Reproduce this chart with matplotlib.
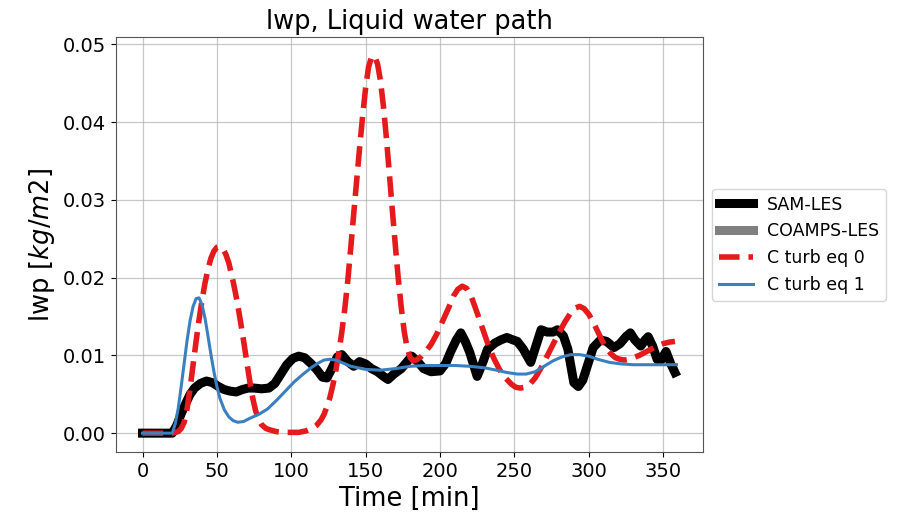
import matplotlib
matplotlib.use("Agg")
import matplotlib.pyplot as plt

# SAM-LES
sam_t = [0, 10, 20, 23, 26, 29, 32, 35, 39, 43, 47, 51, 55, 59, 63, 67, 71, 75, 80, 85,
         89, 93, 97, 101, 105, 109, 113, 117, 121, 124, 127, 131, 134, 138, 142, 146, 150,
         154, 158, 162, 165, 169, 174, 178, 181, 185, 189, 194, 200, 204, 207, 211, 214,
         217, 220, 225, 229, 232, 237, 241, 245, 249, 252, 256, 261, 265, 268, 272, 276,
         279, 283, 286, 290, 293, 296, 299, 303, 308, 312, 317, 321, 325, 328, 331, 335,
         338, 340, 343, 346, 348, 352, 355, 358]
sam_v = [0, 0, 0, 0.001, 0.0025, 0.0038, 0.005, 0.0058, 0.0064, 0.0067, 0.0065, 0.006,
         0.0056, 0.0054, 0.0053, 0.0056, 0.0058, 0.0058, 0.0057, 0.0058,
         0.0064, 0.0076, 0.0088, 0.0096, 0.0099, 0.0097, 0.009, 0.0082, 0.0072, 0.0071,
         0.0082, 0.0098, 0.0101, 0.0092, 0.0086, 0.0092, 0.0089,
         0.0083, 0.0079, 0.0073, 0.0069, 0.0076, 0.0083, 0.0092, 0.0099, 0.0092, 0.0083,
         0.0079, 0.0080, 0.0090, 0.0104, 0.0120, 0.0129,
         0.0118, 0.0104, 0.0073, 0.0092, 0.0108, 0.0116, 0.0120, 0.0123, 0.0120, 0.0118,
         0.0108, 0.0091, 0.0115, 0.0133, 0.0130, 0.0130,
         0.0133, 0.0125, 0.0108, 0.0065, 0.0060, 0.0068, 0.0086, 0.0110, 0.0120, 0.0118,
         0.0110, 0.0115, 0.0124, 0.0129, 0.0120, 0.0112,
         0.0120, 0.0124, 0.0112, 0.0095, 0.0092, 0.0105, 0.0090, 0.0078]

# COAMPS-LES (no data visible)
coamps_t = []
coamps_v = []

# C turb eq 0
c0_t = [0, 10, 20, 22, 24, 26, 28, 30, 32, 34, 36, 38, 40, 42, 44, 46, 48, 50, 52, 54,
        56, 58, 60, 62, 64, 66, 68, 70, 72, 74, 76, 78, 80, 83, 86, 90,
        95, 100, 105, 110, 114, 117, 120, 122, 124, 126, 128, 130, 132, 134, 136, 138,
        140, 142, 144, 146, 148, 150, 152, 154, 156, 158, 160, 162, 164, 166, 168, 170,
        172, 174, 176, 178, 180, 182, 184, 187, 190, 194, 198, 202, 206, 209, 212, 215,
        218, 221, 224, 228, 232, 236, 240, 244, 248, 251, 254, 257, 260, 264, 268, 272,
        276, 280, 284, 288, 291, 294, 297, 300, 303, 306, 309, 312, 315, 318, 321, 324,
        327, 330, 334, 338, 342, 346, 350, 354, 358]
c0_v = [0, 0, 0, 0.0001, 0.0002, 0.0006, 0.0014, 0.0032, 0.0058, 0.0088, 0.0118,
        0.0146, 0.0171, 0.0193, 0.0211, 0.0225, 0.0234, 0.0239, 0.024, 0.0237,
        0.023, 0.0219, 0.0203, 0.0185, 0.0165, 0.0142, 0.0118, 0.0093, 0.0068, 0.0046,
        0.0029, 0.0018, 0.0011, 0.0006, 0.0004, 0.0002,
        0.0001, 0.0001, 0.0001, 0.0003, 0.0006, 0.001, 0.0017, 0.0024, 0.0034, 0.0046,
        0.0062, 0.0081, 0.0104, 0.013, 0.016, 0.0196,
        0.0238, 0.0282, 0.0325, 0.0368, 0.0408, 0.0444, 0.0471, 0.0484, 0.0485, 0.0475,
        0.0453, 0.042, 0.0379, 0.0333, 0.0286, 0.0241,
        0.0198, 0.0161, 0.013, 0.0109, 0.0097, 0.0093, 0.0094, 0.0098, 0.0104, 0.0114,
        0.0128, 0.0145, 0.0162, 0.0176, 0.0185, 0.0189,
        0.0186, 0.0176, 0.016, 0.0138, 0.0116, 0.0097, 0.0082, 0.0071, 0.0063, 0.0059,
        0.0058, 0.0059, 0.0062, 0.0071, 0.0084, 0.0099,
        0.0114, 0.0129, 0.0143, 0.0155, 0.0161, 0.0163, 0.016, 0.0153, 0.0143, 0.0131,
        0.0119, 0.0109, 0.0102, 0.0097, 0.0095, 0.0094,
        0.0095, 0.0097, 0.0100, 0.0104, 0.0108, 0.0112, 0.0115, 0.0117, 0.0118]

# C turb eq 1
c1_t = [0, 10, 20, 22, 24, 26, 28, 30, 32, 34, 36, 38, 40, 42, 44, 46, 48, 50, 52, 55,
        58, 61, 64, 68, 72, 78, 84, 90, 96, 102, 108, 114, 118, 122, 126, 130, 135, 140,
        150, 160, 170, 180, 190, 200, 210, 220, 230, 238, 245, 252, 258, 264, 270, 276,
        282, 288, 294, 300, 306, 314, 322, 330, 340, 350, 359]
c1_v = [0, 0, 0, 0.0012, 0.0032, 0.006, 0.009, 0.012, 0.0145, 0.0163, 0.0173, 0.0174,
        0.0165, 0.0148, 0.0125, 0.0101, 0.0079, 0.006, 0.0045, 0.003,
        0.0021, 0.0016, 0.0014, 0.0015, 0.0019, 0.0024, 0.0031, 0.0042, 0.0054, 0.0066,
        0.0076, 0.0085, 0.009, 0.0094, 0.0095, 0.0094, 0.009, 0.0086,
        0.0082, 0.0081, 0.0083, 0.0086, 0.0087, 0.0087, 0.0087, 0.0086, 0.0084, 0.0081,
        0.0078, 0.0076, 0.0076, 0.0079, 0.0086, 0.0093,
        0.0098, 0.0101, 0.0101, 0.0099, 0.0095, 0.0091, 0.0089, 0.0088, 0.0088, 0.0088,
        0.0088]

fig = plt.figure(figsize=(8.98, 5.16), dpi=100)
ax = fig.add_axes([0.129, 0.124, 0.654, 0.804])

ax.plot(sam_t, sam_v, color='black', lw=6.5, label='SAM-LES')
ax.plot(coamps_t, coamps_v, color='#808080', lw=6.5, label='COAMPS-LES')
ax.plot(c0_t, c0_v, color='#e41a1c', lw=4, ls='--', label='C turb eq 0')
ax.plot(c1_t, c1_v, color='#3a80c0', lw=2.2, label='C turb eq 1')

ax.grid(True, color='#b0b0b0', lw=0.9, alpha=0.7)
ax.set_axisbelow(True)
for s in ax.spines.values():
    s.set_color('#555555')
ax.set_title('lwp, Liquid water path', fontsize=18.5)
ax.set_xlabel('Time [min]', fontsize=18.5)
ax.set_ylabel('lwp $[kg/m2]$', fontsize=18.5)
ax.tick_params(labelsize=14)
ax.set_yticks([0, 0.01, 0.02, 0.03, 0.04, 0.05])
ax.set_xticks([0, 50, 100, 150, 200, 250, 300, 350])

ax.legend(loc='center left', bbox_to_anchor=(1.0, 0.5), fontsize=12.5)

fig.savefig('out.png', dpi=100)
